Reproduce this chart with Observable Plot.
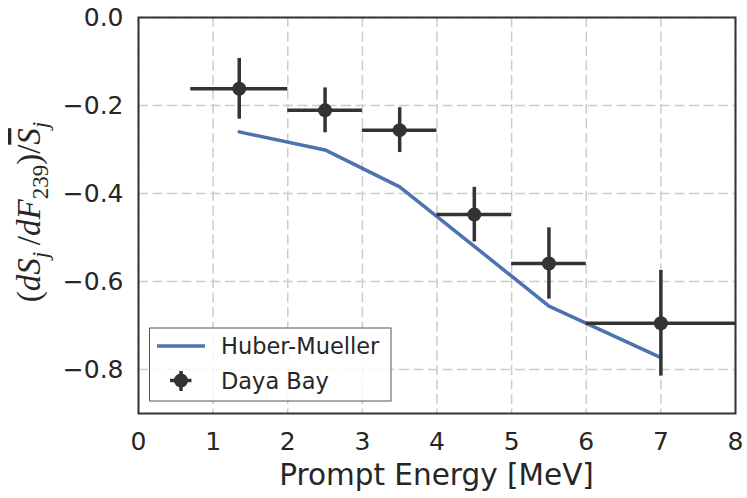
<!DOCTYPE html>
<html>
<head>
<meta charset="utf-8">
<script src="https://cdn.jsdelivr.net/npm/d3@7"></script>
<script src="https://cdn.jsdelivr.net/npm/@observablehq/plot@0.6"></script>
<style>
  html, body { margin: 0; padding: 0; background: #ffffff; }
  #chart { width: 747px; height: 498px; }
</style>
</head>
<body>
<div id="chart"></div>
<script>
// ---- data ----
const energy       = [1.35, 2.5, 3.5, 4.5, 5.5, 7.0];      // bin centres [MeV]
const binLow       = [0.7, 2.0, 3.0, 4.0, 5.0, 6.0];
const binHigh      = [2.0, 3.0, 4.0, 5.0, 6.0, 8.0];
const dayaBay      = [-0.162, -0.211, -0.256, -0.448, -0.559, -0.695];
const dayaBayErr   = [0.069, 0.051, 0.051, 0.062, 0.081, 0.120];
const huberMueller = [-0.260, -0.301, -0.385, -0.520, -0.656, -0.773];
const xTicks = [0, 1, 2, 3, 4, 5, 6, 7, 8];
const yTicks = [0.0, -0.2, -0.4, -0.6, -0.8];
const xLabel = "Prompt Energy [MeV]";
const legendLabels = ["Huber-Mueller", "Daya Bay"];

const dark = "#333333";
const blue = "#4c72b0";
const textColor = "#262626";

const idx = energy.map((_, i) => i);
const yLow  = dayaBay.map((v, i) => v - dayaBayErr[i]);
const yHigh = dayaBay.map((v, i) => v + dayaBayErr[i]);

const fmt = d => (d < 0 ? "\u2212" : "") + Math.abs(d).toFixed(1);

const W = 747, H = 498;
const mL = 138, mR = 12, mT = 17, mB = 85;

const svg = Plot.plot({
  width: W,
  height: H,
  marginLeft: mL,
  marginRight: mR,
  marginTop: mT,
  marginBottom: mB,
  style: { fontFamily: "DejaVu Sans", color: textColor, background: "#ffffff", overflow: "visible" },
  x: { domain: [0, 8] },
  y: { domain: [-0.9, 0] },
  marks: [
    Plot.gridX(xTicks, { stroke: "#cccccc", strokeOpacity: 1, strokeWidth: 1.5, strokeDasharray: "10,4.5" }),
    Plot.gridY(yTicks, { stroke: "#cccccc", strokeOpacity: 1, strokeWidth: 1.5, strokeDasharray: "10,4.5" }),
    Plot.axisX({ ticks: xTicks, tickSize: 0, tickPadding: 19, fontSize: 25, label: null, tickFormat: d => String(d), fill: textColor }),
    Plot.axisY({ ticks: yTicks, tickSize: 0, tickPadding: 15, fontSize: 25, label: null, tickFormat: fmt, fill: textColor }),
    Plot.line(idx, { x: energy, y: huberMueller, stroke: blue, strokeWidth: 3.5, strokeLinejoin: "round" }),
    Plot.ruleY(idx, { y: dayaBay, x1: binLow, x2: binHigh, stroke: dark, strokeWidth: 3.5 }),
    Plot.ruleX(idx, { x: energy, y1: yLow, y2: yHigh, stroke: dark, strokeWidth: 3.5 }),
    Plot.dot(idx, { x: energy, y: dayaBay, r: 7, fill: dark, stroke: "none" }),
    Plot.frame({ stroke: dark, strokeWidth: 2 })
  ]
});

document.getElementById("chart").appendChild(svg);

const s = d3.select(svg);

// x axis label
s.append("text")
  .attr("x", mL + (W - mL - mR) / 2)
  .attr("y", 485)
  .attr("text-anchor", "middle")
  .attr("font-family", "DejaVu Sans")
  .attr("font-size", 29.5)
  .attr("fill", textColor)
  .text(xLabel);

// y axis label (math text)
const yCenter = 212;
const yl = s.append("text")
  .attr("text-anchor", "start")
  .attr("font-family", "Liberation Serif")
  .attr("font-size", 33)
  .attr("fill", textColor);
const parts = [
  { t: "(", it: false },
  { t: "dS", it: true },
  { t: "j", it: true, sub: true },
  { t: "\u2009/", it: false },
  { t: "dF", it: true },
  { t: "239", it: false, sub: true },
  { t: ")", it: false },
  { t: "/", it: false },
  { t: "S", it: true, over: true },
  { t: "j", it: true, sub: true }
];
let shifted = false;
for (const p of parts) {
  const ts = yl.append("tspan").text(p.t)
    .attr("font-style", p.it ? "italic" : "normal");
  if (p.sub) {
    ts.attr("font-size", 23).attr("dy", shifted ? 0 : 7.5);
    shifted = true;
  } else {
    if (shifted) { ts.attr("dy", -7.5); shifted = false; }
  }
  if (p.over) ts.style("text-decoration", "overline");
}
const bb = yl.node().getBBox();
yl.attr("transform", `translate(40,${yCenter + bb.x + bb.width / 2}) rotate(-90)`);

// legend
const lg = s.append("g").attr("text-anchor", "start");
lg.append("rect")
  .attr("x", 149.5).attr("y", 328).attr("width", 241.5).attr("height", 73)
  .attr("fill", "#ffffff").attr("fill-opacity", 0.8)
  .attr("stroke", "#555555").attr("stroke-width", 1);
lg.append("line")
  .attr("x1", 157).attr("x2", 205).attr("y1", 346).attr("y2", 346)
  .attr("stroke", blue).attr("stroke-width", 3.5);
lg.append("line")
  .attr("x1", 170).attr("x2", 191.5).attr("y1", 380.5).attr("y2", 380.5)
  .attr("stroke", dark).attr("stroke-width", 3.5);
lg.append("line")
  .attr("x1", 181).attr("x2", 181).attr("y1", 371).attr("y2", 391)
  .attr("stroke", dark).attr("stroke-width", 3.5);
lg.append("circle")
  .attr("cx", 181).attr("cy", 380.5).attr("r", 7).attr("fill", dark);
lg.append("text")
  .attr("x", 221).attr("y", 354)
  .attr("text-anchor", "start")
  .attr("font-family", "DejaVu Sans").attr("font-size", 22.5).attr("fill", textColor)
  .text(legendLabels[0]);
lg.append("text")
  .attr("x", 221).attr("y", 388.5)
  .attr("text-anchor", "start")
  .attr("font-family", "DejaVu Sans").attr("font-size", 22.5).attr("fill", textColor)
  .text(legendLabels[1]);
</script>
</body>
</html>
